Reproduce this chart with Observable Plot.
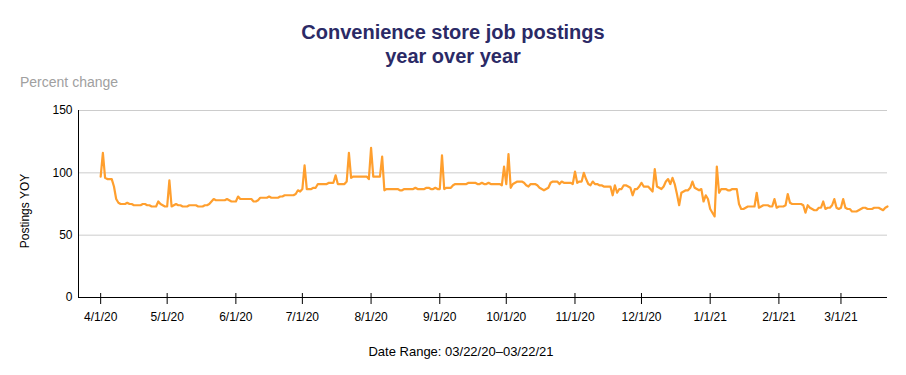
<!DOCTYPE html>
<html>
<head>
<meta charset="utf-8">
<script src="https://cdn.jsdelivr.net/npm/d3@7"></script>
<script src="https://cdn.jsdelivr.net/npm/@observablehq/plot@0.6"></script>
<style>
  body { margin: 0; background: #fff; font-family: "Liberation Sans", Arial, sans-serif; }
  #wrap { width: 906px; height: 375px; position: relative; overflow: hidden; }
  #head { height: 95px; position: relative; }
  #title { position: absolute; top: 19.5px; left: 0; width: 906px; text-align: center; font-weight: bold; font-size: 20px; line-height: 24.5px; color: #2b2a66; }
  #sub { position: absolute; left: 20px; top: 74px; font-size: 14px; line-height: 16px; color: #a0a0a0; }
  #ylab { position: absolute; left: -74.7px; top: 204px; width: 200px; height: 14px; line-height: 14px; font-size: 12px; text-align: center; color: #000; transform: rotate(-90deg); transform-origin: 50% 50%; }
  #cap { position: absolute; left: 0; top: 344px; width: 922px; text-align: center; font-size: 13px; line-height: 15px; color: #000; }
</style>
</head>
<body>
<div id="wrap">
  <div id="head">
    <div id="title">Convenience store job postings<br>year over year</div>
    <div id="sub">Percent change</div>
  </div>
  <div id="chart"></div>
  <div id="ylab">Postings YOY</div>
  <div id="cap">Date Range: 03/22/20–03/22/21</div>
</div>
<script>
// Month start for each block of daily values
const monthStarts = ["2020-04-01","2020-05-01","2020-06-01","2020-07-01","2020-08-01","2020-09-01",
                     "2020-10-01","2020-11-01","2020-12-01","2021-01-01","2021-02-01","2021-03-01"];

// Daily year-over-year postings values
const apr20 = [97,116,96,95,95,95,89,79,76,75, 75,75,76,75,75,74,74,74,74,75, 75,74,74,73,73,73,77,75,74,73];
const may20 = [73,94,73,74,75,74,74,73,73,73, 74,74,74,74,73,73,73,74,74,75, 77,79,78,78,78,78,78,79,78,77, 77];
const jun20 = [77,81,79,79,79,79,79,79,77,77, 78,80,80,80,80,81,80,80,80,80, 81,81,82,82,82,82,82,83,86,85];
const jul20 = [87,106,87,87,87,88,88,91,91,91, 91,91,92,92,92,98,91,91,91,91, 93,116,96,97,97,97,97,97,97,97, 95];
const aug20 = [120,97,97,97,97,113,86,87,87,87, 87,87,87,86,86,87,87,87,87,87, 88,87,87,87,87,88,88,87,87,88, 87];
const sep20 = [87,114,87,88,88,88,90,91,91,91, 91,91,91,92,92,92,92,91,91,92, 91,91,92,91,91,91,91,91,90,105];
const oct20 = [91,115,88,91,92,93,93,93,92,90, 89,91,91,91,90,88,87,86,87,88, 92,93,93,93,91,93,92,92,92,92, 91];
const nov20 = [101,92,93,93,100,95,91,90,93,91, 91,90,90,89,89,89,89,82,90,84, 87,87,90,90,89,88,82,87,87,89];
const dec20 = [92,89,89,89,87,85,103,89,88,87, 89,93,95,91,96,91,83,74,84,85, 86,86,88,93,88,87,86,87,77,82, 79];
const jan21 = [71,68,65,105,84,87,87,87,86,86, 87,87,87,75,71,71,72,73,73,73, 73,84,72,73,74,74,74,73,73,79, 72];
const feb21 = [73,73,73,74,83,76,75,75,75,75, 75,74,68,74,72,71,70,70,72,72, 77,71,72,72,74,79,72,71];
const mar21 = [72,79,72,71,71,69,69,69,70,71, 72,72,71,71,71,72,72,72,71,70, 72,73];

const months = [apr20, may20, jun20, jul20, aug20, sep20, oct20, nov20, dec20, jan21, feb21, mar21];

const xDomain = ["2020-03-22", "2021-03-22"];
const xTicks = ["2020-04-01","2020-05-01","2020-06-01","2020-07-01","2020-08-01","2020-09-01",
                "2020-10-01","2020-11-01","2020-12-01","2021-01-01","2021-02-01","2021-03-01"];
const yTicks = [0, 50, 100, 150];

const data = months.flatMap((vals, m) =>
  vals.map((v, i) => ({date: new Date(Date.parse(monthStarts[m]) + i * 864e5), value: v})));

const xTickDates = xTicks.map(s => new Date(s));
const fmt = d => `${d.getUTCMonth() + 1}/${d.getUTCDate()}/${String(d.getUTCFullYear()).slice(2)}`;

const chart = Plot.plot({
  width: 906,
  height: 230,
  marginTop: 15,
  marginBottom: 28,
  marginLeft: 78,
  marginRight: 19,
  style: {fontFamily: '"Liberation Sans", Arial, sans-serif', fontSize: "12px", color: "#000", background: "#fff", overflow: "visible"},
  x: {type: "utc", domain: xDomain.map(s => new Date(s))},
  y: {domain: [0, 150]},
  marks: [
    Plot.gridY(yTicks.filter(v => v > 0), {stroke: "#cccccc", strokeOpacity: 1}),
    Plot.ruleY([0], {stroke: "#000"}),
    Plot.ruleX([xDomain[0]].map(s => new Date(s)), {stroke: "#000"}),
    Plot.ruleX(xTickDates, {x: d => d, y1: 0, y2: 0, insetTop: -4, insetBottom: -7, stroke: "#000"}),
    Plot.line(data, {x: "date", y: "value", stroke: "#ff9f2e", strokeWidth: 2.2}),
    Plot.axisY({ticks: yTicks, tickSize: 0, tickPadding: 6, label: null, fontSize: 12}),
    Plot.axisX({ticks: xTickDates, tickSize: 0, tickPadding: 15, tickFormat: fmt, label: null, fontSize: 12})
  ]
});
document.getElementById("chart").appendChild(chart);
</script>
</body>
</html>
